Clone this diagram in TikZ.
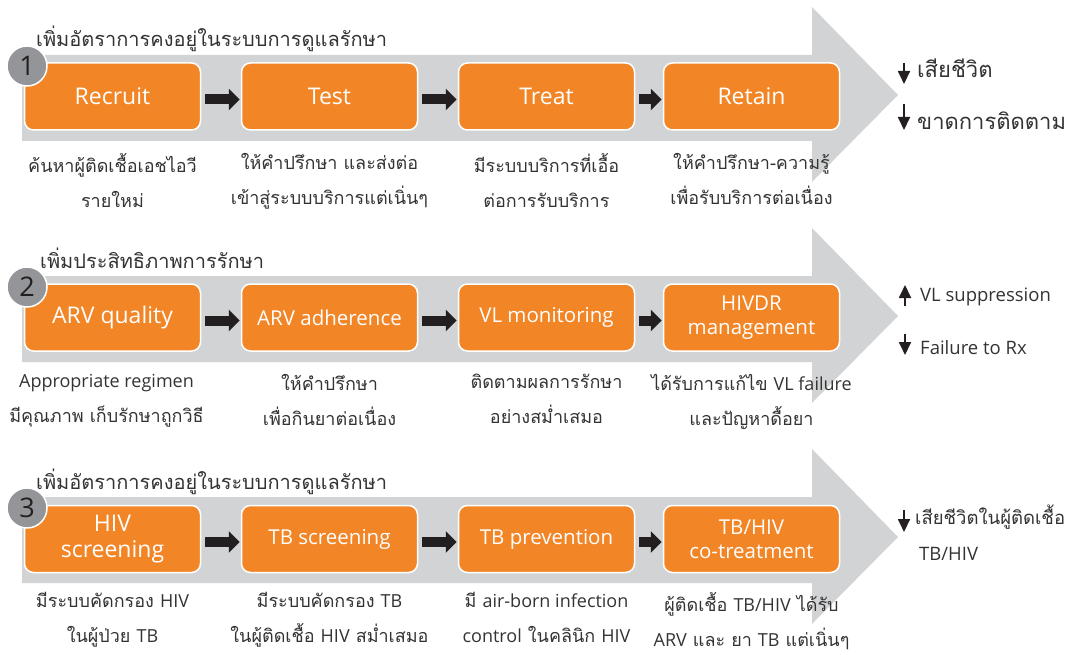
\documentclass[tikz,border=0pt]{standalone}
\usepackage{fontspec}
\setmainfont[Script=Thai]{Loma}
\newfontfamily\latinfont{Open Sans}
\usepackage{xcolor}
\usetikzlibrary{arrows.meta, positioning}
\definecolor{bandgray}{HTML}{D1D3D4}
\definecolor{boxorange}{HTML}{F28526}
\definecolor{numgray}{HTML}{939598}
\definecolor{arrowblack}{HTML}{231F20}
\definecolor{textgray}{HTML}{333333}
\newcommand{\lat}[1]{{\latinfont #1}}
\tikzstyle{process} = [rectangle, rounded corners=9pt, minimum width=176pt, minimum height=67pt, align=center, draw=white, line width=1.5pt, fill=boxorange, text=white, font=\latinfont\fontsize{23}{26}\selectfont]
\tikzstyle{smaller} = [font=\latinfont\fontsize{20.5}{24}\selectfont]
\tikzstyle{arrow} = [line width=10pt, draw=arrowblack, -{Triangle[length=11pt,width=21pt]}, shorten <=4pt, shorten >=1pt]
\tikzstyle{mini} = [line width=1.8pt, draw=arrowblack, -{Triangle[length=13pt,width=12pt]}]
\tikzstyle{num} = [circle, minimum size=40pt, inner sep=0pt, fill=numgray, draw=white, line width=1.5pt, text=arrowblack, font=\latinfont\fontsize{27}{27}\selectfont]
\tikzstyle{title} = [anchor=base west, inner sep=0pt, text=textgray, font=\fontsize{20}{20}\selectfont]
\tikzstyle{note} = [anchor=north, align=center, inner sep=0pt, text=textgray, font=\fontsize{18}{35}\selectfont]
\tikzstyle{result} = [anchor=base west, inner sep=0pt, text=textgray, font=\fontsize{18.5}{18}\selectfont]
\tikzstyle{bigresult} = [result, font=\fontsize{22}{22}\selectfont]

\begin{document}
\begin{tikzpicture}[x=1pt, y=-1pt, node distance=217pt]
    \useasboundingbox (0,0) rectangle (1076,655);
    \fill[bandgray] (22,55) -- (812,55) -- (812,7) -- (898,95) -- (812,182) -- (812,141) -- (22,141) -- cycle;
    \fill[bandgray] (22,276) -- (812,276) -- (812,228) -- (898,316) -- (812,403) -- (812,362) -- (22,362) -- cycle;
    \fill[bandgray] (22,497) -- (812,497) -- (812,449) -- (898,537) -- (812,624) -- (812,583) -- (22,583) -- cycle;

    \node (title1) [title] at (36,47) {เพิ่มอัตราการคงอยู่ในระบบการดูแลรักษา};
    \node (recruit) [process] at (112.5,96.5) {Recruit};
    \node (test) [process, right of=recruit] {Test};
    \node (treat) [process, right of=test] {Treat};
    \node (retain) [process, right of=treat, xshift=-12pt] {Retain};
    \node (num1) [num] at (27,66) {1};
    \node (note1a) [note, below=22pt of recruit] {ค้นหาผู้ติดเชื้อเอชไอวี\\รายใหม่};
    \node (note1b) [note, below=22pt of test] {ให้คำปรึกษา และส่งต่อ\\เข้าสู่ระบบบริการแต่เนิ่นๆ};
    \node (note1c) [note, below=22pt of treat] {มีระบบบริการที่เอื้อ\\ต่อการรับบริการ};
    \node (note1d) [note, below=22pt of retain] {ให้คำปรึกษา-ความรู้\\เพื่อรับบริการต่อเนื่อง};
    \node (res1a) [bigresult] at (917,78) {เสียชีวิต};
    \node (res1b) [bigresult] at (917,130) {ขาดการติดตาม};
    \coordinate (d1a) at (904,63);
    \coordinate (d1b) at (904,104);
    \draw [mini] (d1a) -- ++(0,21);
    \draw [mini] (d1b) -- ++(0,26);
    \draw [arrow] ([yshift=-3pt]recruit.east) -- ([yshift=-3pt]test.west);
    \draw [arrow] ([yshift=-3pt]test.east) -- ([yshift=-3pt]treat.west);
    \draw [arrow] ([yshift=-3pt]treat.east) -- ([yshift=-3pt]retain.west);

    \node (title2) [title] at (40,268) {เพิ่มประสิทธิภาพการรักษา};
    \node (quality) [process] at (112.5,317.5) {ARV quality};
    \node (adherence) [process, smaller, right of=quality] {ARV adherence};
    \node (monitoring) [process, smaller, right of=adherence] {VL monitoring};
    \node (hivdr) [process, smaller, right of=monitoring, xshift=-12pt] {HIVDR\\management};
    \node (num2) [num] at (27,287) {2};
    \node (note2a) [note, below=22pt of quality, xshift=-6pt] {\lat{Appropriate regimen}\\มีคุณภาพ เก็บรักษาถูกวิธี};
    \node (note2b) [note, below=22pt of adherence] {ให้คำปรึกษา\\เพื่อกินยาต่อเนื่อง};
    \node (note2c) [note, below=22pt of monitoring] {ติดตามผลการรักษา\\อย่างสม่ำเสมอ};
    \node (note2d) [note, below=22pt of hivdr] {ได้รับการแก้ไข \lat{VL failure}\\และปัญหาดื้อยา};
    \node (res2a) [result] at (920,301) {\lat{VL suppression}};
    \node (res2b) [result] at (920,354) {\lat{Failure to Rx}};
    \coordinate (u2a) at (905,306);
    \coordinate (d2b) at (905,334);
    \draw [mini] (u2a) -- ++(0,-21);
    \draw [mini] (d2b) -- ++(0,21);
    \draw [arrow] ([yshift=-3pt]quality.east) -- ([yshift=-3pt]adherence.west);
    \draw [arrow] ([yshift=-3pt]adherence.east) -- ([yshift=-3pt]monitoring.west);
    \draw [arrow] ([yshift=-3pt]monitoring.east) -- ([yshift=-3pt]hivdr.west);

    \node (title3) [title] at (36,489) {เพิ่มอัตราการคงอยู่ในระบบการดูแลรักษา};
    \node (hivscreen) [process] at (112.5,539) {HIV\\screening};
    \node (tbscreen) [process, smaller, right of=hivscreen] {TB screening};
    \node (tbprev) [process, smaller, right of=tbscreen] {TB prevention};
    \node (cotreat) [process, smaller, right of=tbprev, xshift=-12pt] {TB/HIV\\co-treatment};
    \node (num3) [num] at (27,508) {3};
    \node (note3a) [note, below=19pt of hivscreen] {มีระบบคัดกรอง \lat{HIV}\\ในผู้ป่วย \lat{TB}};
    \node (note3b) [note, below=19pt of tbscreen] {มีระบบคัดกรอง \lat{TB}\\ในผู้ติดเชื้อ \lat{HIV} สม่ำเสมอ};
    \node (note3c) [note, below=19pt of tbprev] {มี \lat{air-born infection}\\\lat{control} ในคลินิก \lat{HIV}};
    \node (note3d) [note, below=19pt of cotreat] {ผู้ติดเชื้อ \lat{TB/HIV} ได้รับ\\\lat{ARV} และ ยา \lat{TB} แต่เนิ่นๆ};
    \node (res3a) [result] at (915,524) {เสียชีวิตในผู้ติดเชื้อ};
    \node (res3b) [result] at (919,560) {\lat{TB/HIV}};
    \coordinate (d3a) at (904,510);
    \draw [mini] (d3a) -- ++(0,22);
    \draw [arrow] ([yshift=-3pt]hivscreen.east) -- ([yshift=-3pt]tbscreen.west);
    \draw [arrow] ([yshift=-3pt]tbscreen.east) -- ([yshift=-3pt]tbprev.west);
    \draw [arrow] ([yshift=-3pt]tbprev.east) -- ([yshift=-3pt]cotreat.west);
\end{tikzpicture}
\end{document}
